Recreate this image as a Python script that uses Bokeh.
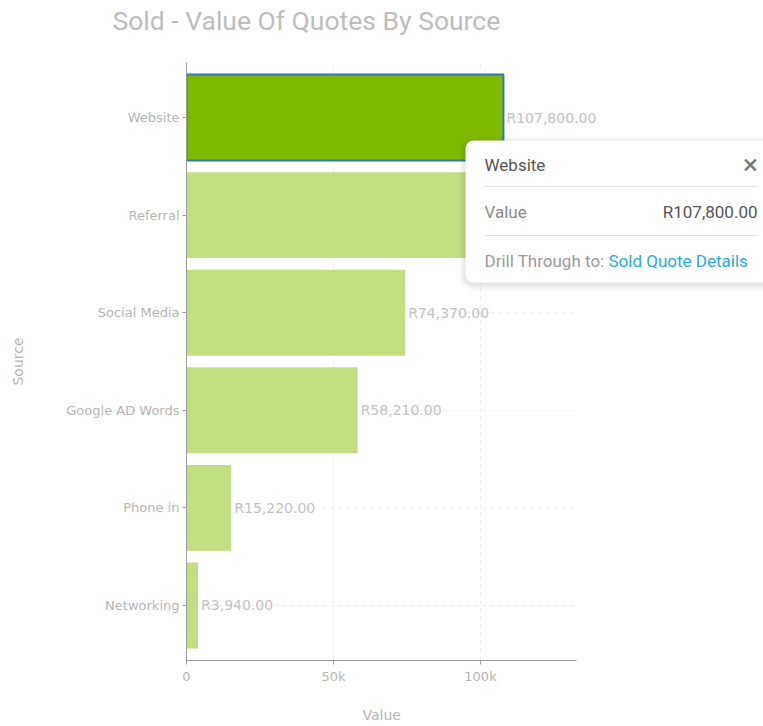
from bokeh.plotting import figure
from bokeh.models import (FactorRange, Range1d, NumeralTickFormatter, Label, BoxAnnotation,
                          ColumnDataSource, FixedTicker, Title)
from bokeh.core.properties import value
from bokeh.embed import file_html
from bokeh.resources import INLINE

# ---- data ----
sources = ["Website", "Referral", "Social Media", "Google AD Words", "Phone in", "Networking"]
values = [107800, 98500, 74370, 58210, 15220, 3940]
x_ticks = [0, 50000, 100000]
x_axis_max = 132800
highlighted = "Website"
title_text = "Sold - Value Of Quotes By Source"
x_label = "Value"
y_label = "Source"
tip_value_label = "Value"
tip_drill_label = "Drill Through to:"
tip_link_label = "Sold Quote Details"

FONT = "Roboto"
TICKFONT = "DejaVu Sans"
labels = [f"R{v:,.2f}" for v in values]
fills = ["#7fba00" if s == highlighted else "#c1de81" for s in sources]
lines = ["#2e7bad" if s == highlighted else None for s in sources]
widths = [2 if s == highlighted else 0 for s in sources]

src = ColumnDataSource(dict(source=sources, value=values, label=labels,
                            fill=fills, line=lines, lw=widths,
                            x0=[0] * len(sources), x1=[x_axis_max] * len(sources)))

# frame spans to the right edge so the tooltip card is not clipped;
# 2.94 px per 1k -> right edge of frame
p = figure(width=763, height=726,
           y_range=FactorRange(factors=sources[::-1], range_padding=0.0212),
           x_range=Range1d(0, 196260),
           output_backend="svg", toolbar_location=None,
           min_border_left=186, min_border_right=0,
           min_border_top=62, min_border_bottom=66)
p.outline_line_color = None
p.background_fill_color = "white"
p.border_fill_color = "white"

# horizontal dashed grid lines only across the axis extent
p.segment(x0="x0", x1="x1", y0="source", y1="source", source=src,
          line_color="#ebebeb", line_dash="4 4", line_width=1, level="underlay")

p.hbar(y="source", right="value", left=0, height=0.88, source=src,
       fill_color="fill", line_color="line", line_width="lw")

p.text(x="value", y="source", text="label", source=src, x_offset=3,
       text_baseline="middle", text_align="left", text_color="#c2c2c2",
       text_font_size="14px", text_font=value(TICKFONT))

# grids
p.xgrid.ticker = FixedTicker(ticks=x_ticks)
p.xgrid.grid_line_color = "#ebebeb"
p.xgrid.grid_line_dash = "4 4"
p.ygrid.grid_line_color = None

# axes
p.xaxis.ticker = FixedTicker(ticks=x_ticks)
p.xaxis.formatter = NumeralTickFormatter(format="0a")
p.xaxis.bounds = (0, x_axis_max)
for ax in (p.xaxis, p.yaxis):
    ax.axis_line_color = "#9a9a9a"
    ax.major_tick_line_color = "#9a9a9a"
    ax.major_tick_in = 0
    ax.major_tick_out = 4
    ax.minor_tick_line_color = None
    ax.major_label_text_color = "#b5b5b5"
    ax.major_label_text_font = TICKFONT
    ax.major_label_text_font_size = "13px"
    ax.axis_label_text_color = "#b5b5b5"
    ax.axis_label_text_font = TICKFONT
    ax.axis_label_text_font_size = "14px"
    ax.axis_label_text_font_style = "normal"
p.yaxis.axis_label = y_label
p.xaxis.major_label_standoff = 4
p.yaxis.major_label_standoff = 3
p.yaxis.axis_label_standoff = 37

# x axis label: centred under the axis extent (not the whole frame)
p.add_layout(Title(text=" ", text_font_size="1px", standoff=13), "below")
p.add_layout(Title(text=x_label, align="left", offset=176, text_font=TICKFONT,
                   text_font_size="14px", text_font_style="normal",
                   text_color="#b5b5b5", standoff=4), "below")

# spacer between frame and title (inner-most "above" panel)
p.add_layout(Title(text=" ", text_font_size="1px", standoff=18), "above")

# title on top, to the left of the frame
p.title.text = title_text
p.title.align = "left"
p.title.offset = -74
p.title.text_font = FONT
p.title.text_font_size = "26.5px"
p.title.text_font_style = "normal"
p.title.text_color = "#bdbdbd"
p.title.vertical_align = "top"
p.title.standoff = 8

# tooltip card (frame-relative screen coords)
cl, cr, ct, cb = 279, 620, 520, 378
for i, a in enumerate([0.025, 0.03, 0.04]):
    d = 6 - 2 * i
    p.add_layout(BoxAnnotation(left=cl - d, right=cr + d, top=ct + d - 2, bottom=cb - d - 2,
                               left_units="screen", right_units="screen",
                               top_units="screen", bottom_units="screen",
                               fill_color="black", fill_alpha=a, line_color=None,
                               border_radius=8 + d, level="overlay"))
p.add_layout(BoxAnnotation(left=cl, right=cr, top=ct, bottom=cb,
                           left_units="screen", right_units="screen",
                           top_units="screen", bottom_units="screen",
                           fill_color="white", fill_alpha=1.0, line_color=None,
                           border_radius=8, level="overlay"))
for yy in (474, 425):
    p.add_layout(BoxAnnotation(left=298, right=571, top=yy + 0.5, bottom=yy - 0.5,
                               left_units="screen", right_units="screen",
                               top_units="screen", bottom_units="screen",
                               fill_color="#e2e2e2", fill_alpha=1.0, line_color=None,
                               level="overlay"))

def lab(x, y, t, color, size="17px", align="left"):
    p.add_layout(Label(x=x, y=y, x_units="screen", y_units="screen", text=t,
                       text_font=FONT, text_font_size=size, text_color=color,
                       text_baseline="middle", text_align=align, level="overlay"))

lab(298, 496, highlighted, "#555555")
lab(564, 496, "\u00d7", "#777777", size="28px", align="center")
lab(298, 449, tip_value_label, "#8a8a8a")
lab(571, 449, labels[sources.index(highlighted)], "#555555", align="right")
lab(298, 400, tip_drill_label, "#9a9a9a")
lab(422, 400, tip_link_label, "#2aa9e0")

open("out.html", "w").write(file_html(p, INLINE))
